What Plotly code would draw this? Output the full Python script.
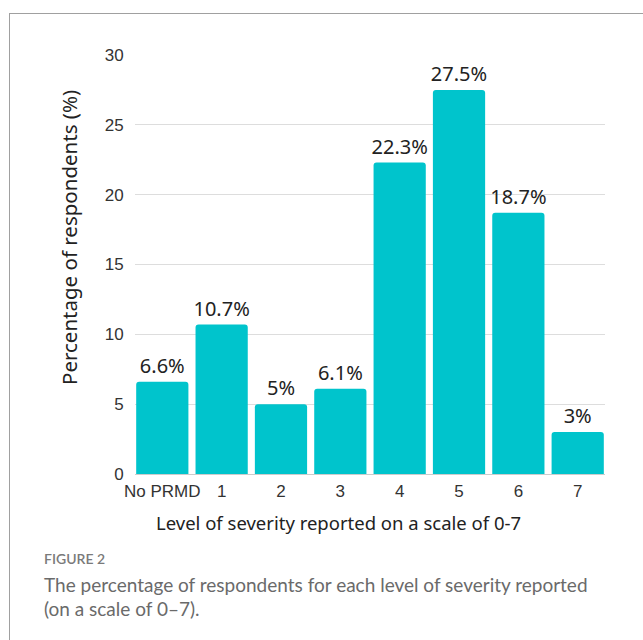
import plotly.graph_objects as go

# Severity levels and share of respondents at each level
categories = ["No PRMD", "1", "2", "3", "4", "5", "6", "7"]
percentages = [6.6, 10.7, 5, 6.1, 22.3, 27.5, 18.7, 3]
y_ticks = [0, 5, 10, 15, 20, 25, 30]

W, H = 643, 640
L, R, T, B = 135, 38, 55, 166
PW, PH = W - L - R, H - T - B


def px(x):
    return (x - L) / PW


def py(y):
    return (H - B - y) / PH


bar_color = "#00C4CC"
label_font = "Noto Sans, Lato, sans-serif"
tick_font = "Liberation Sans, Arial, sans-serif"
caption_font = "Lato, Open Sans, sans-serif"

fig = go.Figure(
    go.Bar(
        x=list(range(len(categories))),
        y=percentages,
        text=[f"{v:g}%" for v in percentages],
        textposition="outside",
        constraintext="none",
        textfont=dict(family=label_font, size=20, color="#222222"),
        marker=dict(color=bar_color, line=dict(width=0), cornerradius=3),
        cliponaxis=False,
        hoverinfo="skip",
    )
)

fig.update_layout(
    width=W,
    height=H,
    margin=dict(l=L, r=R, t=T, b=B),
    paper_bgcolor="white",
    plot_bgcolor="white",
    showlegend=False,
    bargap=0.12,
    xaxis=dict(
        range=[-0.46, 7.46],
        tickmode="array",
        tickvals=list(range(len(categories))),
        ticktext=categories,
        tickfont=dict(family=tick_font, size=17, color="#333333"),
        showgrid=False,
        zeroline=False,
        showline=True,
        linecolor="#cccccc",
        linewidth=1,
        ticks="outside",
        ticklen=2,
        tickcolor="rgba(0,0,0,0)",
    ),
    yaxis=dict(
        range=[0, 30],
        tickmode="array",
        tickvals=y_ticks,
        tickfont=dict(family=tick_font, size=17, color="#333333"),
        showgrid=True,
        gridcolor="#dddddd",
        gridwidth=1,
        zeroline=False,
        showline=False,
        ticks="outside",
        ticklen=7,
        tickcolor="rgba(0,0,0,0)",
    ),
)

# Axis titles
fig.add_annotation(
    x=px(338), y=py(522), xref="paper", yref="paper",
    text="Level of severity reported on a scale of 0-7",
    showarrow=False, xanchor="center", yanchor="middle",
    font=dict(family=label_font, size=18.5, color="#222222"),
)
fig.add_annotation(
    x=px(69), y=py(238), xref="paper", yref="paper",
    text="Percentage of respondents (%)", textangle=-90,
    showarrow=False, xanchor="center", yanchor="middle",
    font=dict(family=label_font, size=20.5, color="#222222"),
)

# Caption
fig.add_annotation(
    x=px(42), y=py(558), xref="paper", yref="paper",
    text="FIGURE 2", showarrow=False, xanchor="left", yanchor="middle",
    font=dict(family=caption_font, size=14, color="#7a7a7a", weight=600),
)
fig.add_annotation(
    x=px(42), y=py(584), xref="paper", yref="paper",
    text="The percentage of respondents for each level of severity reported",
    showarrow=False, xanchor="left", yanchor="middle",
    font=dict(family=caption_font, size=19, color="#6a6a6a"),
)
fig.add_annotation(
    x=px(42), y=py(608), xref="paper", yref="paper",
    text="(on a scale of 0\u20137).",
    showarrow=False, xanchor="left", yanchor="middle",
    font=dict(family=caption_font, size=19, color="#6a6a6a"),
)

# Frame around the figure (top and left edges)
frame = dict(color="#a0a0a0", width=1)
fig.add_shape(type="line", xref="paper", yref="paper",
              x0=px(9), x1=px(W + 5), y0=py(13.5), y1=py(13.5), line=frame)
fig.add_shape(type="line", xref="paper", yref="paper",
              x0=px(9.5), x1=px(9.5), y0=py(13.5), y1=py(H + 5), line=frame)

fig.write_html("out.html")
